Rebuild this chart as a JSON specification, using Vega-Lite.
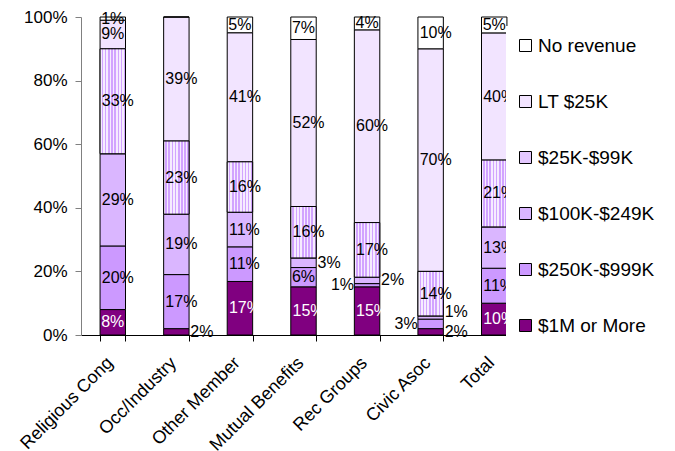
{
  "$schema": "https://vega.github.io/schema/vega-lite/v6.json",
  "autosize": "none",
  "width": 445,
  "height": 318,
  "padding": {"left": 81, "top": 17, "right": 149, "bottom": 116},
  "background": "white",
  "config": {"view": {"stroke": null}, "font": "Liberation Sans", "axis": {"grid": false}},
  "data": {"values": [
    {"cat": "Religious Cong", "series": "$1M or More", "o": 0, "v": 8},
    {"cat": "Religious Cong", "series": "$250K-$999K", "o": 1, "v": 20},
    {"cat": "Religious Cong", "series": "$100K-$249K", "o": 2, "v": 29},
    {"cat": "Religious Cong", "series": "$25K-$99K", "o": 3, "v": 33},
    {"cat": "Religious Cong", "series": "LT $25K", "o": 4, "v": 9},
    {"cat": "Religious Cong", "series": "No revenue", "o": 5, "v": 1},
    {"cat": "Occ/Industry", "series": "$1M or More", "o": 0, "v": 2},
    {"cat": "Occ/Industry", "series": "$250K-$999K", "o": 1, "v": 17},
    {"cat": "Occ/Industry", "series": "$100K-$249K", "o": 2, "v": 19},
    {"cat": "Occ/Industry", "series": "$25K-$99K", "o": 3, "v": 23},
    {"cat": "Occ/Industry", "series": "LT $25K", "o": 4, "v": 39},
    {"cat": "Occ/Industry", "series": "No revenue", "o": 5, "v": 0},
    {"cat": "Other Member", "series": "$1M or More", "o": 0, "v": 17},
    {"cat": "Other Member", "series": "$250K-$999K", "o": 1, "v": 11},
    {"cat": "Other Member", "series": "$100K-$249K", "o": 2, "v": 11},
    {"cat": "Other Member", "series": "$25K-$99K", "o": 3, "v": 16},
    {"cat": "Other Member", "series": "LT $25K", "o": 4, "v": 41},
    {"cat": "Other Member", "series": "No revenue", "o": 5, "v": 5},
    {"cat": "Mutual Benefits", "series": "$1M or More", "o": 0, "v": 15},
    {"cat": "Mutual Benefits", "series": "$250K-$999K", "o": 1, "v": 6},
    {"cat": "Mutual Benefits", "series": "$100K-$249K", "o": 2, "v": 3},
    {"cat": "Mutual Benefits", "series": "$25K-$99K", "o": 3, "v": 16},
    {"cat": "Mutual Benefits", "series": "LT $25K", "o": 4, "v": 52},
    {"cat": "Mutual Benefits", "series": "No revenue", "o": 5, "v": 7},
    {"cat": "Rec Groups", "series": "$1M or More", "o": 0, "v": 15},
    {"cat": "Rec Groups", "series": "$250K-$999K", "o": 1, "v": 1},
    {"cat": "Rec Groups", "series": "$100K-$249K", "o": 2, "v": 2},
    {"cat": "Rec Groups", "series": "$25K-$99K", "o": 3, "v": 17},
    {"cat": "Rec Groups", "series": "LT $25K", "o": 4, "v": 60},
    {"cat": "Rec Groups", "series": "No revenue", "o": 5, "v": 4},
    {"cat": "Civic Asoc", "series": "$1M or More", "o": 0, "v": 2},
    {"cat": "Civic Asoc", "series": "$250K-$999K", "o": 1, "v": 3},
    {"cat": "Civic Asoc", "series": "$100K-$249K", "o": 2, "v": 1},
    {"cat": "Civic Asoc", "series": "$25K-$99K", "o": 3, "v": 14},
    {"cat": "Civic Asoc", "series": "LT $25K", "o": 4, "v": 70},
    {"cat": "Civic Asoc", "series": "No revenue", "o": 5, "v": 10},
    {"cat": "Total", "series": "$1M or More", "o": 0, "v": 10},
    {"cat": "Total", "series": "$250K-$999K", "o": 1, "v": 11},
    {"cat": "Total", "series": "$100K-$249K", "o": 2, "v": 13},
    {"cat": "Total", "series": "$25K-$99K", "o": 3, "v": 21},
    {"cat": "Total", "series": "LT $25K", "o": 4, "v": 40},
    {"cat": "Total", "series": "No revenue", "o": 5, "v": 5}
  ]},
  "transform": [
    {"stack": "v", "groupby": ["cat"], "sort": [{"field": "o", "order": "ascending"}], "offset": "normalize", "as": ["y0", "y1"]},
    {"calculate": "(datum.y0 + datum.y1) / 2", "as": "ym"},
    {"calculate": "datum.v + '%'", "as": "lab"}
  ],
  "encoding": {
    "x": {
      "field": "cat", "type": "nominal",
      "sort": ["Religious Cong", "Occ/Industry", "Other Member", "Mutual Benefits", "Rec Groups", "Civic Asoc", "Total"],
      "scale": {"paddingInner": 0.6, "paddingOuter": 0.3},
      "axis": {"title": null, "labelAngle": -45, "labelAlign": "right", "labelBaseline": "middle", "labelFontSize": 18, "labelColor": "black", "domainColor": "black", "tickColor": "black", "tickSize": 6, "tickBand": "extent", "labelPadding": 19, "labelOffset": -3}
    }
  },
  "layer": [
    {
      "mark": {"type": "bar", "stroke": "black", "strokeWidth": 1},
      "encoding": {
        "y": {"field": "y1", "type": "quantitative", "scale": {"domain": [0, 1]},
          "axis": {"title": null, "format": ".0%", "values": [0, 0.2, 0.4, 0.6, 0.8, 1], "labelFontSize": 17, "labelColor": "black", "domainColor": "#808080", "tickColor": "#808080", "tickSize": 6, "labelPadding": 8}},
        "y2": {"field": "y0"},
        "color": {
          "field": "series", "type": "nominal",
          "scale": {"domain": ["No revenue", "LT $25K", "$25K-$99K", "$100K-$249K", "$250K-$999K", "$1M or More"],
                    "range": ["#ffffff", "#f2e4ff", "#e4c8ff", "#dab6ff", "#cc99ff", "#800080"]},
          "legend": {"title": null, "orient": "none", "legendX": 425, "legendY": 9, "fillColor": "white", "padding": 10,
                     "symbolType": "square", "symbolSize": 144, "symbolStrokeColor": "black", "symbolStrokeWidth": 1, "symbolOpacity": 1,
                     "labelFontSize": 19, "labelColor": "black", "rowPadding": 36, "labelOffset": 3}
        }
      }
    },
    {
      "transform": [{"filter": "datum.series === '$25K-$99K'"}],
      "mark": {"type": "bar", "stroke": "black", "strokeWidth": 1,
        "fill": {"gradient": "linear", "x1": 0, "y1": 0, "x2": 1, "y2": 0, "stops": [
          {"offset": 0, "color": "#f6ecff"}, {"offset": 0.0625, "color": "#f6ecff"}, {"offset": 0.0625, "color": "#d2a4ff"}, {"offset": 0.125, "color": "#d2a4ff"},
          {"offset": 0.125, "color": "#f6ecff"}, {"offset": 0.1875, "color": "#f6ecff"}, {"offset": 0.1875, "color": "#d2a4ff"}, {"offset": 0.25, "color": "#d2a4ff"},
          {"offset": 0.25, "color": "#f6ecff"}, {"offset": 0.3125, "color": "#f6ecff"}, {"offset": 0.3125, "color": "#d2a4ff"}, {"offset": 0.375, "color": "#d2a4ff"},
          {"offset": 0.375, "color": "#f6ecff"}, {"offset": 0.4375, "color": "#f6ecff"}, {"offset": 0.4375, "color": "#d2a4ff"}, {"offset": 0.5, "color": "#d2a4ff"},
          {"offset": 0.5, "color": "#f6ecff"}, {"offset": 0.5625, "color": "#f6ecff"}, {"offset": 0.5625, "color": "#d2a4ff"}, {"offset": 0.625, "color": "#d2a4ff"},
          {"offset": 0.625, "color": "#f6ecff"}, {"offset": 0.6875, "color": "#f6ecff"}, {"offset": 0.6875, "color": "#d2a4ff"}, {"offset": 0.75, "color": "#d2a4ff"},
          {"offset": 0.75, "color": "#f6ecff"}, {"offset": 0.8125, "color": "#f6ecff"}, {"offset": 0.8125, "color": "#d2a4ff"}, {"offset": 0.875, "color": "#d2a4ff"},
          {"offset": 0.875, "color": "#f6ecff"}, {"offset": 0.9375, "color": "#f6ecff"}, {"offset": 0.9375, "color": "#d2a4ff"}, {"offset": 1, "color": "#d2a4ff"}
        ]}},
      "encoding": {
        "y": {"field": "y1", "type": "quantitative"},
        "y2": {"field": "y0"}
      }
    },
    {
      "transform": [{"filter": "datum.v >= 10"}],
      "mark": {"type": "text", "align": "left", "baseline": "middle", "dx": -11, "fontSize": 16},
      "encoding": {
        "y": {"field": "ym", "type": "quantitative"},
        "text": {"field": "lab"},
        "color": {"condition": {"test": "datum.series === '$1M or More'", "value": "white"}, "value": "black"}
      }
    },
    {
      "transform": [{"filter": "datum.v > 0 && datum.v < 10 && !((datum.series === '$250K-$999K' && datum.v <= 3) || (datum.series === '$100K-$249K' && datum.v <= 3) || (datum.series === '$1M or More' && datum.v <= 2))"}],
      "mark": {"type": "text", "align": "center", "baseline": "middle", "fontSize": 16},
      "encoding": {
        "y": {"field": "ym", "type": "quantitative"},
        "text": {"field": "lab"},
        "color": {"condition": {"test": "datum.series === '$1M or More'", "value": "white"}, "value": "black"}
      }
    },
    {
      "transform": [{"filter": "(datum.series === '$100K-$249K' && datum.v <= 3) || (datum.series === '$1M or More' && datum.v <= 2)"}],
      "mark": {"type": "text", "align": "left", "baseline": "middle", "dx": 14, "fontSize": 16, "color": "black",
               "dy": {"expr": "datum.series === '$100K-$249K' && datum.v <= 1 ? -6 : 0"}},
      "encoding": {
        "y": {"field": "ym", "type": "quantitative"},
        "text": {"field": "lab"}
      }
    },
    {
      "transform": [{"filter": "datum.series === '$250K-$999K' && datum.v <= 3"}],
      "mark": {"type": "text", "align": "right", "baseline": "middle", "dx": -13, "fontSize": 16, "color": "black"},
      "encoding": {
        "y": {"field": "ym", "type": "quantitative"},
        "text": {"field": "lab"}
      }
    }
  ]
}
